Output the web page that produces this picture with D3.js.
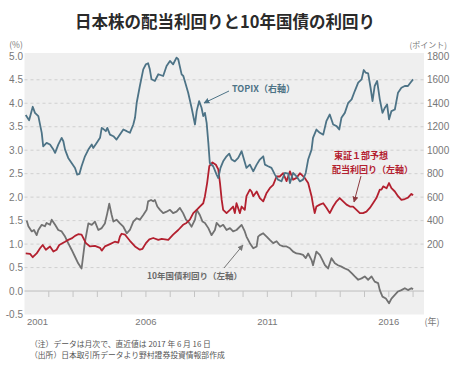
<!DOCTYPE html>
<html><head><meta charset="utf-8">
<script src="https://cdnjs.cloudflare.com/ajax/libs/d3/7.8.5/d3.min.js"></script>
<style>
html,body{margin:0;padding:0;background:#fff;}
svg text{font-family:"Noto Sans CJK JP","Noto Sans",sans-serif;}
.num{font-family:"Liberation Sans",Arial,sans-serif;}
</style></head>
<body><svg id="c" width="450" height="367"></svg>
<script>
// ---- data (decimal year, value) ----
const topixT = [2001.05,2001.19,2001.34,2001.43,2001.57,2001.71,2001.77,2001.91,2002.05,2002.19,2002.26,2002.39,2002.53,2002.60,2002.67,2002.80,2002.94,2003.08,2003.17,2003.26,2003.35,2003.49,2003.63,2003.77,2003.83,2003.97,2004.11,2004.18,2004.24,2004.35,2004.41,2004.52,2004.66,2004.79,2004.93,2005.07,2005.21,2005.34,2005.48,2005.55,2005.62,2005.75,2005.89,2006.00,2006.09,2006.16,2006.23,2006.37,2006.51,2006.71,2006.85,2006.99,2007.12,2007.26,2007.33,2007.47,2007.54,2007.60,2007.74,2007.88,2008.02,2008.09,2008.19,2008.29,2008.36,2008.43,2008.50,2008.57,2008.63,2008.77,2008.91,2008.98,2009.07,2009.18,2009.32,2009.43,2009.53,2009.66,2009.80,2009.94,2010.14,2010.28,2010.42,2010.56,2010.69,2010.83,2010.90,2011.03,2011.17,2011.31,2011.44,2011.58,2011.72,2011.86,2011.93,2012.06,2012.20,2012.34,2012.47,2012.58,2012.68,2012.82,2012.88,2013.02,2013.16,2013.30,2013.43,2013.57,2013.71,2013.85,2013.96,2014.05,2014.19,2014.33,2014.47,2014.60,2014.74,2014.88,2014.97,2015.05,2015.15,2015.25,2015.33,2015.42,2015.52,2015.63,2015.74,2015.84,2015.93,2016.01,2016.11,2016.25,2016.38,2016.52,2016.66,2016.79,2016.89,2017.00];
const topixV = [1300,1255,1370,1318,1290,1148,1033,1062,1048,1005,977,1048,1105,1076,1005,934,891,849,792,798,863,948,1005,1048,1019,1062,1105,1190,1182,1162,1190,1133,1119,1091,1133,1176,1162,1148,1219,1276,1404,1547,1689,1732,1741,1689,1604,1590,1647,1632,1717,1760,1732,1789,1775,1646,1632,1590,1490,1362,1219,1333,1418,1362,1290,1318,1233,1062,891,863,792,763,849,905,948,971,920,905,934,991,849,877,820,877,920,948,877,863,849,792,749,735,806,800,720,806,777,734,749,806,920,1005,1105,1176,1148,1133,1247,1304,1219,1205,1176,1276,1318,1404,1433,1504,1575,1603,1683,1660,1654,1532,1418,1547,1590,1433,1318,1362,1390,1262,1333,1347,1490,1532,1547,1547,1575,1603];

const yieldT = [2001.05,2001.23,2001.34,2001.50,2001.64,2001.75,2001.88,2002.05,2002.19,2002.32,2002.43,2002.67,2002.80,2002.94,2003.08,2003.21,2003.35,2003.45,2003.53,2003.70,2003.90,2004.11,2004.18,2004.31,2004.52,2004.72,2004.86,2004.93,2005.00,2005.14,2005.34,2005.55,2005.75,2005.86,2006.00,2006.14,2006.30,2006.51,2006.65,2006.92,2007.12,2007.33,2007.53,2007.67,2007.81,2007.95,2008.09,2008.22,2008.36,2008.43,2008.52,2008.61,2008.74,2008.88,2008.98,2009.05,2009.12,2009.18,2009.32,2009.46,2009.59,2009.66,2009.73,2009.87,2009.94,2010.07,2010.14,2010.28,2010.35,2010.42,2010.56,2010.69,2010.83,2010.97,2011.10,2011.24,2011.38,2011.51,2011.65,2011.79,2011.93,2012.06,2012.20,2012.34,2012.54,2012.68,2012.82,2012.88,2012.95,2013.02,2013.16,2013.30,2013.44,2013.57,2013.71,2013.85,2013.98,2014.12,2014.26,2014.40,2014.53,2014.67,2014.81,2014.94,2015.08,2015.22,2015.35,2015.49,2015.63,2015.70,2015.77,2015.91,2016.01,2016.11,2016.25,2016.38,2016.52,2016.66,2016.79,2016.93,2017.00];
const yieldV = [0.80,0.79,0.72,0.80,0.91,0.98,0.88,0.95,0.84,0.88,0.98,1.05,1.09,1.12,1.175,1.21,1.20,1.10,1.02,0.95,0.96,0.92,0.86,0.95,1.00,1.05,1.03,1.16,1.22,1.20,1.07,0.95,0.88,0.90,1.02,1.10,1.13,1.09,1.11,1.09,1.20,1.30,1.41,1.45,1.52,1.66,1.73,1.80,1.87,2.02,2.30,2.66,2.74,2.69,2.59,2.30,1.94,1.73,1.66,1.73,1.80,1.66,1.87,1.66,1.80,1.73,2.02,2.16,2.12,2.02,2.12,1.98,1.91,2.09,2.19,2.26,2.44,2.44,2.51,2.34,2.55,2.37,2.41,2.51,2.41,2.30,2.02,1.84,1.66,1.80,1.84,1.87,1.77,1.66,1.80,1.91,1.98,1.91,1.84,1.80,1.80,1.73,1.66,1.66,1.69,1.77,1.87,1.98,2.16,2.16,2.23,2.19,2.30,2.19,2.12,2.02,1.94,1.96,1.99,2.07,2.04];

const jgbT = [2001.09,2001.16,2001.30,2001.39,2001.50,2001.57,2001.71,2001.84,2001.91,2002.05,2002.12,2002.26,2002.39,2002.53,2002.67,2002.80,2002.94,2003.08,2003.21,2003.35,2003.49,2003.63,2003.77,2003.90,2004.04,2004.18,2004.31,2004.41,2004.49,2004.59,2004.66,2004.79,2004.93,2005.07,2005.21,2005.34,2005.48,2005.62,2005.75,2005.89,2006.03,2006.09,2006.21,2006.30,2006.37,2006.47,2006.58,2006.71,2006.85,2006.99,2007.12,2007.26,2007.40,2007.53,2007.65,2007.78,2007.88,2008.02,2008.09,2008.22,2008.33,2008.43,2008.57,2008.70,2008.84,2008.91,2009.05,2009.18,2009.32,2009.46,2009.59,2009.73,2009.94,2010.07,2010.14,2010.28,2010.42,2010.56,2010.62,2010.69,2010.83,2010.97,2011.10,2011.24,2011.38,2011.51,2011.65,2011.79,2011.93,2012.06,2012.20,2012.34,2012.47,2012.58,2012.68,2012.82,2012.88,2013.02,2013.16,2013.27,2013.37,2013.50,2013.64,2013.78,2013.91,2014.05,2014.19,2014.33,2014.47,2014.60,2014.74,2014.88,2015.01,2015.15,2015.29,2015.42,2015.56,2015.63,2015.74,2015.88,2016.01,2016.11,2016.25,2016.38,2016.52,2016.66,2016.79,2016.93,2017.00];
const jgbV = [1.50,1.38,1.27,1.30,1.19,1.30,1.41,1.38,1.45,1.41,1.52,1.41,1.30,1.27,1.16,1.02,0.88,0.73,0.59,0.48,1.05,1.44,1.41,1.48,1.30,1.34,1.44,1.66,1.86,1.62,1.48,1.52,1.44,1.37,1.23,1.30,1.48,1.55,1.52,1.62,1.73,1.91,1.94,1.91,1.94,1.80,1.73,1.66,1.69,1.73,1.66,1.69,1.77,1.66,1.52,1.45,1.37,1.52,1.73,1.62,1.48,1.45,1.34,1.19,1.30,1.45,1.37,1.41,1.30,1.34,1.27,1.30,1.41,1.27,1.16,1.02,0.91,0.95,1.16,1.19,1.23,1.16,1.09,1.02,1.06,0.98,0.95,0.95,0.91,0.84,0.80,0.79,0.77,0.70,0.80,0.66,0.55,0.84,0.77,0.66,0.55,0.48,0.70,0.59,0.55,0.52,0.48,0.45,0.38,0.31,0.24,0.27,0.31,0.24,0.31,0.20,0.17,0.02,-0.12,-0.16,-0.26,-0.16,-0.08,-0.01,0.02,0.06,0.02,0.06,0.04];

const leftTicks = [5.0,4.5,4.0,3.5,3.0,2.5,2.0,1.5,1.0,0.5,0.0,-0.5];
const rightTicks = [1800,1600,1400,1200,1000,800,600,400,200];
const yearLabels = [2001,2006,2011,2016];
const yearTicks = d3.range(2002,2018);

// ---- layout ----
const svg = d3.select("#c");
const L = 24.5, R = 424, TOP = 53, BOT = 314.5;
const x = d3.scaleLinear().domain([2001, 2017.45]).range([L, R]);
const y = d3.scaleLinear().domain([-0.5, 5.0]).range([314.5, 56.3]);
const yR = d3.scaleLinear().domain([-400, 1800]).range([314.5, 56.3]);

const cBlue = "#4d7386", cRed = "#b3202f", cGrey = "#727272";

svg.append("rect").attr("width",450).attr("height",367).attr("fill","#fff");
svg.append("text").attr("x",225).attr("y",28).attr("text-anchor","middle")
  .attr("font-size",16.5).attr("font-weight","bold").attr("fill","#2a2a2a")
  .text("日本株の配当利回りと10年国債の利回り");

svg.append("rect").attr("x",L).attr("y",TOP).attr("width",R-L).attr("height",BOT-TOP).attr("fill","#efefef");

// gridlines
svg.append("g").selectAll("line").data(leftTicks.filter(d=>d>0 && d<5)).join("line")
  .attr("x1",L).attr("x2",R).attr("y1",d=>y(d)).attr("y2",d=>y(d))
  .attr("stroke","#c8c8c8").attr("stroke-width",0.8).attr("stroke-dasharray","3,3");
svg.append("line").attr("x1",L).attr("x2",R).attr("y1",y(0)).attr("y2",y(0))
  .attr("stroke","#bdbdbd").attr("stroke-width",1);
svg.append("g").selectAll("line").data(yearTicks).join("line")
  .attr("x1",d=>x(d)).attr("x2",d=>x(d)).attr("y1",y(0)).attr("y2",y(0)+6)
  .attr("stroke","#c4c4c4").attr("stroke-width",1);

// axis labels
svg.append("g").selectAll("text").data(leftTicks).join("text").attr("class","num")
  .attr("x",23).attr("y",d=>y(d)+3.5).attr("text-anchor","end").attr("font-size",10).attr("fill","#777")
  .text(d=>d.toFixed(1));
svg.append("g").selectAll("text").data(rightTicks).join("text").attr("class","num")
  .attr("x",427).attr("y",d=>yR(d)+3.5).attr("text-anchor","start").attr("font-size",10).attr("fill","#777")
  .text(d=>d);
svg.append("g").selectAll("text").data(yearLabels).join("text").attr("class","num")
  .attr("x",(d,i)=> i===0 ? x(d)+2.5 : x(d)).attr("y",325)
  .attr("text-anchor",(d,i)=> i===0 ? "start" : "middle").attr("font-size",9.5).attr("fill","#777")
  .text(d=>d);
svg.append("text").attr("x",432).attr("y",325).attr("text-anchor","middle").attr("font-size",9).attr("fill","#777").text("(年)");
svg.append("text").attr("x",16).attr("y",48).attr("text-anchor","middle").attr("font-size",8.5).attr("fill","#777").text("(%)");
svg.append("text").attr("x",447).attr("y",48).attr("text-anchor","end").attr("font-size",8).attr("fill","#777").text("(ポイント)");

// lines
const mk = (T,V,ys) => d3.line().x((d,i)=>x(T[i])).y((d,i)=>ys(V[i]))(T);
svg.append("path").attr("d",mk(jgbT,jgbV,y)).attr("fill","none").attr("stroke",cGrey).attr("stroke-width",1.8).attr("stroke-linejoin","round");
svg.append("path").attr("d",mk(yieldT,yieldV,y)).attr("fill","none").attr("stroke",cRed).attr("stroke-width",1.8).attr("stroke-linejoin","round");
svg.append("path").attr("d",mk(topixT,topixV,yR)).attr("fill","none").attr("stroke",cBlue).attr("stroke-width",1.8).attr("stroke-linejoin","round");

// arrows
const defs = svg.append("defs");
[["aB",cBlue],["aR","#8c3a3f"],["aG","#777"]].forEach(([id,c])=>{
  defs.append("marker").attr("id",id).attr("viewBox","0 0 10 10").attr("refX",9).attr("refY",5)
    .attr("markerWidth",6).attr("markerHeight",6).attr("orient","auto-start-reverse")
    .append("path").attr("d","M0,0L10,5L0,10z").attr("fill",c);
});
const arrow = (x1,y1,x2,y2,c,m)=> svg.append("line").attr("x1",x1).attr("y1",y1).attr("x2",x2).attr("y2",y2)
  .attr("stroke",c).attr("stroke-width",1).attr("marker-end",`url(#${m})`);
arrow(229,91,204,103,cBlue,"aB");
arrow(361,176,354,202,"#8c3a3f","aR");
arrow(224,268,243,245,"#777","aG");

svg.append("text").attr("x",232).attr("y",91.5).attr("font-size",9).attr("font-weight","bold").attr("fill",cBlue).text("TOPIX（右軸）");
svg.append("text").attr("x",334).attr("y",158.5).attr("font-size",9).attr("font-weight","bold").attr("fill",cRed).text("東証１部予想");
svg.append("text").attr("x",332).attr("y",172.5).attr("font-size",9).attr("font-weight","bold").attr("fill",cRed).text("配当利回り（左軸）");
svg.append("text").attr("x",147).attr("y",278.5).attr("font-size",8.5).attr("font-weight","bold").attr("fill","#6a6a6a").text("10年国債利回り（左軸）");

// notes
svg.append("text").attr("x",30).attr("y",346.5).attr("font-size",7.8).attr("fill","#555").text("（注）データは月次で、直近値は 2017 年 6 月 16 日");
svg.append("text").attr("x",30).attr("y",358).attr("font-size",7.8).attr("fill","#555").text("（出所）日本取引所データより野村證券投資情報部作成");
</script></body></html>
